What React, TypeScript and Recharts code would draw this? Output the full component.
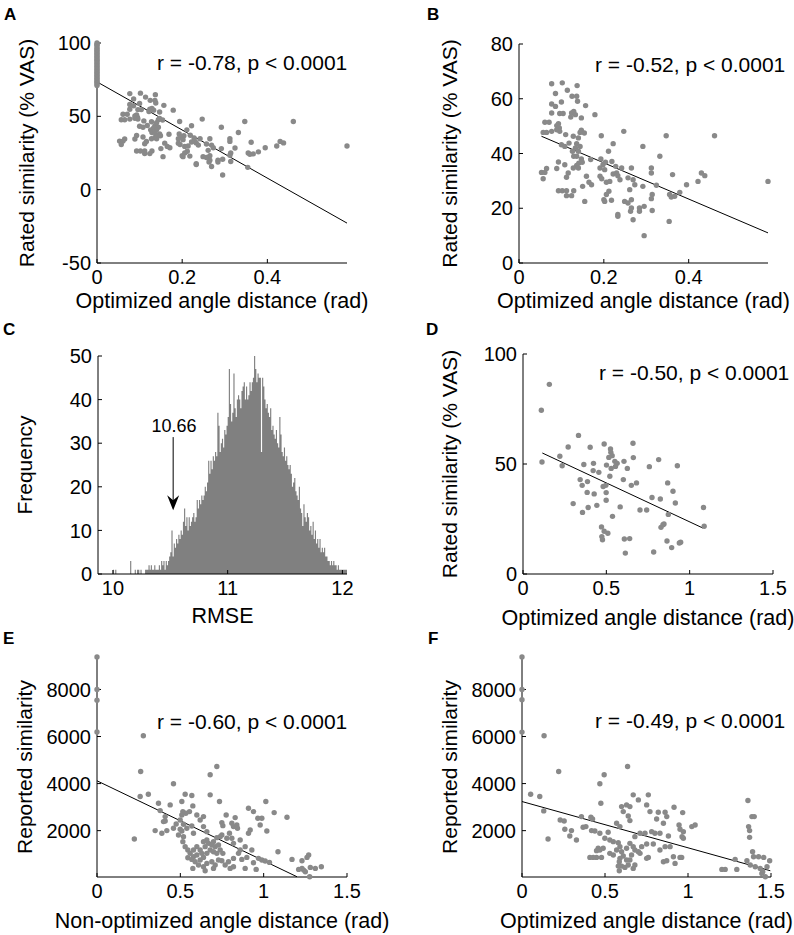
import React from 'react';
import {
  ScatterChart,
  Scatter,
  ComposedChart,
  Area,
  XAxis,
  YAxis,
  ReferenceLine,
  ReferenceDot,
  Label,
} from 'recharts';

const FONT = '"Liberation Sans", Arial, Helvetica, sans-serif';
const DOT = '#898989';

type Pt = [number, number];

// A + B: optimized angle distance (rad) vs rated similarity (% VAS)
const ptsAB: Pt[] = [
  [0.077, 65.5], [0.102, 65.8], [0.137, 64.8], [0.114, 63.1], [0.125, 60.9], [0.136, 60.9],
  [0.086, 61.9], [0.1, 58.8], [0.077, 58.1], [0.086, 57.2], [0.138, 59.1], [0.157, 57.5],
  [0.179, 54.2], [0.077, 54.8], [0.096, 54.6], [0.104, 54.6], [0.124, 54.8], [0.129, 55.4],
  [0.133, 54.2], [0.147, 53.0], [0.122, 53.3], [0.061, 51.4], [0.071, 51.4], [0.093, 50.9],
  [0.089, 50.2], [0.095, 49.3], [0.089, 48.7], [0.096, 48.1], [0.077, 48.1], [0.065, 47.7],
  [0.057, 47.7], [0.11, 46.9], [0.128, 46.3], [0.144, 47.7], [0.147, 48.5], [0.154, 47.5],
  [0.14, 45.7], [0.194, 46.5], [0.247, 48.1], [0.347, 46.5], [0.461, 46.5], [0.1, 43.2],
  [0.108, 42.6], [0.118, 43.8], [0.136, 43.6], [0.144, 42.6], [0.133, 42.0], [0.14, 40.8],
  [0.126, 40.8], [0.222, 43.6], [0.211, 40.8], [0.129, 39.0], [0.136, 39.0], [0.147, 38.0],
  [0.169, 37.8], [0.193, 38.0], [0.204, 36.8], [0.219, 37.1], [0.292, 42.6], [0.332, 39.0],
  [0.093, 36.9], [0.108, 35.9], [0.136, 35.6], [0.141, 36.5], [0.128, 34.7], [0.14, 34.7],
  [0.149, 36.8], [0.191, 34.7], [0.198, 35.9], [0.202, 34.1], [0.228, 35.3], [0.242, 34.7],
  [0.265, 34.7], [0.312, 34.7], [0.065, 34.5], [0.089, 34.5], [0.053, 33.1], [0.061, 33.1],
  [0.057, 30.8], [0.116, 32.9], [0.112, 31.3], [0.159, 31.7], [0.191, 31.7], [0.195, 30.8],
  [0.222, 32.5], [0.23, 32.9], [0.233, 31.9], [0.257, 31.1], [0.312, 32.9], [0.362, 32.3],
  [0.43, 32.9], [0.438, 31.9], [0.422, 29.8], [0.165, 29.5], [0.171, 28.6], [0.206, 29.5],
  [0.214, 29.8], [0.238, 30.4], [0.269, 30.4], [0.273, 28.6], [0.292, 28.0], [0.324, 28.4],
  [0.395, 28.6], [0.587, 29.8], [0.15, 28.0], [0.093, 26.4], [0.102, 26.4], [0.112, 26.4],
  [0.129, 26.4], [0.212, 26.2], [0.261, 26.8], [0.379, 25.8], [0.355, 25.0], [0.359, 24.1],
  [0.367, 24.4], [0.112, 24.6], [0.124, 24.6], [0.206, 25.0], [0.314, 25.0], [0.312, 23.5],
  [0.2, 23.1], [0.202, 22.5], [0.155, 22.5], [0.218, 22.9], [0.249, 22.5], [0.257, 21.9],
  [0.265, 23.1], [0.265, 20.1], [0.284, 20.1], [0.295, 20.7], [0.263, 18.9], [0.284, 18.9],
  [0.314, 19.2], [0.233, 17.7], [0.233, 17.1], [0.269, 15.8], [0.354, 15.2], [0.295, 10.0],
];
// A only: pairs with zero distance
const zeroA: number[] = [
  100, 99, 98.5, 97, 96, 95, 94, 93, 92, 91, 90, 89, 88, 87, 86, 85, 84, 83, 82, 81, 80,
  79, 78, 77, 76, 75, 74, 73, 72, 71,
];
const fitA: Pt[] = [[0, 73.5], [0.587, -22.8]];
const fitB: Pt[] = [[0.053, 46.3], [0.587, 11.0]];

// C: RMSE histogram, bins of 0.01 starting at 10.00
const histStart = 10.0;
const histBin = 0.01;
const histCounts: number[] = [
  1, 0, 1, 0, 0, 0, 0, 0, 0, 0,
  0, 0, 0, 0, 0, 3, 0, 0, 0, 1,
  0, 1, 1, 0, 1, 0, 0, 0, 1, 1,
  1, 2, 1, 2, 1, 1, 2, 1, 1, 1,
  2, 1, 3, 2, 3, 1, 3, 2, 3, 4,
  5, 10, 4, 7, 6, 8, 7, 9, 8, 10,
  9, 12, 15, 11, 13, 10, 13, 11, 12, 13,
  14, 12, 13, 17, 15, 17, 16, 18, 17, 18,
  20, 19, 21, 26, 23, 26, 24, 27, 26, 28,
  27, 37, 34, 28, 30, 31, 29, 33, 32, 34,
  36, 47, 39, 35, 37, 46, 38, 36, 40, 41,
  40, 38, 42, 43, 44, 40, 43, 40, 41, 44,
  42, 44, 45, 50, 47, 44, 46, 45, 45, 28,
  45, 43, 40, 38, 39, 37, 36, 38, 33, 34,
  32, 31, 33, 30, 29, 36, 32, 28, 27, 29,
  26, 27, 25, 24, 25, 23, 20, 21, 22, 19,
  18, 17, 20, 15, 14, 11, 16, 13, 12, 14,
  13, 10, 11, 9, 12, 8, 10, 7, 8, 6,
  8, 5, 6, 5, 6, 4, 4, 3, 3, 2,
  3, 2, 3, 2, 2, 1, 2, 1, 1, 1,
  1, 1, 1, 1,
];
const arrowX = 10.525;
const arrowTop = 31.4;
const arrowTip = 14.6;

// D
const ptsD: Pt[] = [
  [0.11, 74.4], [0.158, 86.2], [0.114, 50.9], [0.221, 53.5], [0.271, 57.7], [0.333, 63.0],
  [0.403, 57.6], [0.487, 59.1], [0.525, 56.8], [0.527, 55.3], [0.535, 53.8], [0.515, 53.0],
  [0.551, 51.2], [0.565, 50.3], [0.606, 51.2], [0.66, 59.4], [0.662, 52.9], [0.626, 48.0],
  [0.758, 48.8], [0.814, 52.0], [0.926, 49.2], [0.365, 49.8], [0.423, 50.3], [0.501, 49.5],
  [0.529, 48.0], [0.555, 48.9], [0.421, 47.0], [0.455, 46.2], [0.343, 42.9], [0.387, 42.0],
  [0.355, 40.3], [0.521, 44.4], [0.602, 42.9], [0.65, 40.3], [0.681, 41.4], [0.481, 39.8],
  [0.497, 40.3], [0.301, 32.0], [0.385, 37.1], [0.427, 36.4], [0.499, 37.0], [0.499, 33.5],
  [0.357, 28.0], [0.391, 30.2], [0.443, 31.2], [0.537, 26.2], [0.583, 30.5], [0.702, 29.1],
  [0.742, 29.1], [0.774, 34.8], [0.824, 34.1], [0.868, 41.4], [0.9, 37.6], [0.914, 32.3],
  [0.872, 27.1], [1.083, 30.2], [1.087, 21.7], [0.828, 21.2], [0.84, 22.4], [0.846, 22.7],
  [0.471, 21.4], [0.487, 19.4], [0.509, 18.5], [0.473, 17.0], [0.477, 15.6], [0.608, 15.9],
  [0.64, 16.1], [0.614, 9.5], [0.784, 10.0], [0.864, 15.0], [0.946, 14.4], [0.938, 14.1],
  [0.892, 12.0], [0.235, 49.2],
];
const fitD: Pt[] = [[0.116, 55.0], [1.079, 20.9]];

// E: non-optimized angle distance vs reported similarity
const ptsE: Pt[] = [
  [0, 9379], [0, 7998], [0, 7545], [0, 6195],
  [0.278, 6032], [0.262, 4515], [0.719, 4729], [0.679, 4373], [0.459, 3990], [0.259, 3450],
  [0.308, 3550], [0.369, 3165], [0.439, 3094], [0.379, 2853], [0.409, 2597], [0.409, 2412],
  [0.399, 2384], [0.349, 2001], [0.389, 1887], [0.419, 2001], [0.224, 1646], [0.529, 3550],
  [0.569, 3493], [0.679, 3521], [0.509, 3236], [0.575, 3052], [0.735, 3236], [0.515, 2810],
  [0.555, 2810], [0.509, 2668], [0.533, 2739], [0.599, 2668], [0.639, 2597], [0.619, 2455],
  [0.499, 2455], [0.475, 2284], [0.519, 2270], [0.459, 2100], [0.499, 2057], [0.509, 1986],
  [0.539, 2100], [0.569, 2199], [0.519, 1745], [0.489, 1816], [0.579, 1887], [0.639, 2171],
  [0.659, 1958], [0.749, 2341], [0.755, 2213], [0.809, 2313], [0.819, 2171], [0.839, 2242],
  [0.843, 2100], [0.775, 2668], [0.909, 2952], [0.939, 2810], [0.965, 2526], [0.989, 2526],
  [0.979, 2242], [1.013, 3236], [0.829, 2554], [0.719, 1703], [0.749, 1816], [0.795, 1887],
  [0.809, 1674], [0.859, 1603], [0.819, 1461], [0.909, 1887], [0.919, 2029], [1.019, 1986],
  [1.063, 2767], [1.14, 2569], [1.086, 1106], [0.929, 1178], [0.969, 823], [0.989, 750],
  [1.009, 708], [1.035, 651], [0.899, 864], [0.939, 637], [0.889, 395], [0.955, 352],
  [1.17, 779], [1.23, 722], [1.26, 864], [1.27, 963], [1.23, 395], [1.24, 324],
  [1.25, 253], [1.28, 438], [1.31, 395], [1.346, 466], [1.276, 40], [1.21, 352],
  [0.545, 1178], [0.559, 1035], [0.579, 893], [0.599, 963], [0.569, 779], [0.545, 850],
  [0.619, 750], [0.639, 864], [0.659, 1035], [0.679, 1178], [0.699, 1106], [0.719, 1035],
  [0.739, 1178], [0.755, 1035], [0.619, 1178], [0.629, 1035], [0.649, 1319], [0.669, 1461],
  [0.689, 1391], [0.709, 1319], [0.729, 1391], [0.699, 1532], [0.659, 1603], [0.639, 1532],
  [0.599, 1319], [0.579, 1178], [0.589, 680], [0.609, 537], [0.639, 466], [0.659, 608],
  [0.689, 680], [0.709, 537], [0.729, 750], [0.769, 537], [0.799, 395], [0.789, 680],
  [0.819, 821], [0.849, 1035], [0.869, 779], [0.649, 295], [0.575, 395], [0.819, 466],
  [0.749, 722], [0.699, 395], [0.859, 1178], [0.889, 1319], [0.739, 1745], [0.779, 1674],
  [0.515, 1532], [0.529, 1319],
];
const fitE: Pt[] = [[0, 4118], [1.2, 40]];

// F: optimized angle distance vs reported similarity
const ptsF: Pt[] = [
  [0, 9377], [0, 7998], [0, 7567], [0, 6189],
  [0.133, 6032], [0.221, 4515], [0.636, 4729], [0.495, 4373], [0.469, 3990], [0.052, 3550],
  [0.107, 3450], [0.131, 2839], [0.157, 1646], [0.23, 2455], [0.254, 2412], [0.258, 2057],
  [0.298, 2001], [0.288, 1773], [0.328, 1603], [0.358, 2597], [0.368, 2142], [0.385, 2171],
  [0.415, 2569], [0.425, 2498], [0.419, 2001], [0.439, 1986], [0.475, 3165], [0.519, 1929],
  [0.57, 2313], [0.59, 2171], [0.6, 3023], [0.61, 2810], [0.63, 3094], [0.65, 3023],
  [0.67, 3521], [0.65, 2426], [0.64, 2625], [0.701, 3307], [0.761, 3521], [0.751, 3094],
  [0.771, 2810], [0.821, 2782], [0.811, 2498], [0.862, 2782], [0.872, 2597], [0.916, 2995],
  [0.968, 2767], [0.852, 2313], [0.946, 2242], [0.952, 2057], [0.972, 1958], [1.023, 2171],
  [1.043, 2242], [0.882, 1773], [0.831, 1887], [0.801, 1887], [0.781, 1958], [0.741, 1887],
  [0.711, 1887], [0.68, 1745], [0.972, 1674], [0.964, 1745], [0.469, 1887], [0.499, 1674],
  [0.529, 1603], [0.55, 1532], [0.58, 1490], [0.59, 1319], [0.57, 1178], [0.6, 1106],
  [0.63, 1249], [0.65, 1461], [0.67, 1319], [0.68, 1178], [0.701, 1106], [0.721, 1319],
  [0.751, 1433], [0.791, 1433], [0.831, 1178], [0.862, 1319], [0.892, 1319], [0.912, 893],
  [0.852, 680], [0.872, 722], [0.922, 608], [0.952, 864], [0.962, 864], [0.761, 864],
  [0.751, 822], [0.711, 1035], [0.66, 963], [0.65, 750], [0.68, 537], [0.67, 395],
  [0.64, 537], [0.63, 750], [0.61, 921], [0.59, 822], [0.586, 680], [0.6, 494],
  [0.586, 295], [0.62, 438], [0.58, 494], [0.459, 1249], [0.469, 1178], [0.449, 1149],
  [0.449, 864], [0.479, 864], [0.529, 1035], [0.55, 963], [0.489, 1249], [0.409, 864],
  [0.429, 864], [1.361, 3279], [1.365, 2171], [1.371, 2001], [1.371, 1716], [1.385, 2597],
  [1.399, 2597], [1.389, 1106], [1.395, 893], [1.425, 893], [1.456, 864], [1.355, 722],
  [1.375, 537], [1.405, 466], [1.435, 395], [1.492, 722], [1.445, 182], [1.466, 40],
  [1.45, 253], [1.284, 779], [1.294, 352], [1.204, 352], [1.224, 352], [1.476, 466],
];
const fitF: Pt[] = [[0, 3237], [1.496, 296]];

const toXY = (pts: Pt[]) => pts.map(([x, y]) => ({ x, y }));

const tickStyle = { fill: '#000', fontSize: 20, fontFamily: FONT };
const xTitleStyle = { fill: '#000', fontSize: 21.5, fontFamily: FONT };
const yTitleStyle = { fill: '#000', fontSize: 21, fontFamily: FONT, textAnchor: 'middle' as const };

const dotShape = (p: any) => <circle cx={p.cx} cy={p.cy} r={2.7} fill={DOT} />;

type Rect = { left: number; top: number; right: number; bottom: number };

interface PanelProps {
  originX: number;
  plot: Rect;
  xDomain: [number, number];
  xTicks: number[];
  yDomain: [number, number];
  yTicks: number[];
  xLabel: string;
  yLabel: string;
  yLabelX: number;
  xLabelGap: number;
  series: { x: number; y: number }[][];
  fit: Pt[];
}

const PAD_TOP = 20;
const PAD_RIGHT = 70;
const AXIS_H = 60;

function ScatterPanel(props: PanelProps) {
  const { originX, plot } = props;
  const yW = plot.left - originX;
  const width = plot.right - originX + PAD_RIGHT;
  const height = plot.bottom - plot.top + PAD_TOP + AXIS_H;
  return (
    <div style={{ position: 'absolute', left: originX, top: plot.top - PAD_TOP }}>
      <ScatterChart
        width={width}
        height={height}
        margin={{ top: PAD_TOP, right: PAD_RIGHT, bottom: 0, left: 0 }}
      >
        <XAxis
          type="number"
          dataKey="x"
          domain={props.xDomain}
          ticks={props.xTicks}
          interval={0}
          height={AXIS_H}
          stroke="#000"
          tickSize={-4}
          tickMargin={11}
          tick={tickStyle}
        >
          <Label
            value={props.xLabel}
            position="insideBottom"
            offset={AXIS_H - props.xLabelGap}
            style={xTitleStyle}
          />
        </XAxis>
        <YAxis
          type="number"
          dataKey="y"
          domain={props.yDomain}
          ticks={props.yTicks}
          interval={0}
          width={yW}
          stroke="#000"
          tickSize={-4}
          tickMargin={10}
          tick={tickStyle}
        >
          <Label
            value={props.yLabel}
            angle={-90}
            position="insideLeft"
            offset={props.yLabelX}
            style={yTitleStyle}
          />
        </YAxis>
        {props.series.map((s, i) => (
          <Scatter key={i} data={s} shape={dotShape} isAnimationActive={false} />
        ))}
        <ReferenceLine segment={toXY(props.fit)} stroke="#000" strokeWidth={1} />
      </ScatterChart>
    </div>
  );
}

function HistPanel() {
  const plot: Rect = { left: 98, top: 356, right: 347, bottom: 574 };
  const originX = 0;
  const width = plot.right - originX + PAD_RIGHT;
  const height = plot.bottom - plot.top + PAD_TOP + AXIS_H;
  const bins = histCounts.map((c, i) => ({ x: histStart + i * histBin, c }));
  bins.push({ x: histStart + histCounts.length * histBin, c: histCounts[histCounts.length - 1] });
  const arrowHead = (p: any) => (
    <path
      d={`M${p.cx},${p.cy} L${p.cx - 6},${p.cy - 15} L${p.cx},${p.cy - 10} L${p.cx + 6},${p.cy - 15} Z`}
      fill="#000"
    />
  );
  return (
    <div style={{ position: 'absolute', left: originX, top: plot.top - PAD_TOP }}>
      <ComposedChart
        width={width}
        height={height}
        data={bins}
        margin={{ top: PAD_TOP, right: PAD_RIGHT, bottom: 0, left: 0 }}
      >
        <XAxis
          type="number"
          dataKey="x"
          domain={[9.87, 12.04]}
          ticks={[10, 11, 12]}
          interval={0}
          height={AXIS_H}
          stroke="#000"
          tickSize={-4}
          tickMargin={11}
          tick={tickStyle}
        >
          <Label value="RMSE" position="insideBottom" offset={AXIS_H - 49} style={xTitleStyle} />
        </XAxis>
        <YAxis
          type="number"
          domain={[0, 50]}
          ticks={[0, 10, 20, 30, 40, 50]}
          interval={0}
          width={plot.left - originX}
          stroke="#000"
          tickSize={-4}
          tickMargin={10}
          tick={tickStyle}
        >
          <Label
            value="Frequency"
            angle={-90}
            position="insideLeft"
            offset={25}
            style={yTitleStyle}
          />
        </YAxis>
        <Area
          type="stepAfter"
          dataKey="c"
          stroke="none"
          fill="#808080"
          fillOpacity={1}
          isAnimationActive={false}
        />
        <ReferenceLine
          segment={[{ x: arrowX, y: arrowTop }, { x: arrowX, y: arrowTip + 2 }]}
          stroke="#000"
          strokeWidth={1}
        />
        <ReferenceDot x={arrowX} y={arrowTip} r={0} shape={arrowHead} />
      </ComposedChart>
    </div>
  );
}

const rTexts = [
  { x: 157, y: 70, t: 'r = -0.78, p < 0.0001' },
  { x: 595, y: 72, t: 'r = -0.52, p < 0.0001' },
  { x: 599, y: 380, t: 'r = -0.50, p < 0.0001' },
  { x: 157, y: 729, t: 'r = -0.60, p < 0.0001' },
  { x: 595, y: 728, t: 'r = -0.49, p < 0.0001' },
];
const letters = [
  { x: 4, y: 20, t: 'A' },
  { x: 427, y: 20, t: 'B' },
  { x: 3, y: 335, t: 'C' },
  { x: 426, y: 335, t: 'D' },
  { x: 3, y: 644, t: 'E' },
  { x: 428, y: 644, t: 'F' },
];

export default function App() {
  const dataA = [...toXY(ptsAB), ...zeroA.map((y) => ({ x: 0, y }))];
  return (
    <div
      style={{
        position: 'absolute',
        left: 0,
        top: 0,
        width: 794,
        height: 935,
        background: '#fff',
        fontFamily: FONT,
        overflow: 'hidden',
      }}
    >
      <ScatterPanel
        originX={0}
        plot={{ left: 97, top: 43, right: 347, bottom: 263 }}
        xDomain={[0, 0.587]}
        xTicks={[0, 0.2, 0.4]}
        yDomain={[-50, 100]}
        yTicks={[-50, 0, 50, 100]}
        xLabel="Optimized angle distance (rad)"
        yLabel="Rated similarity (% VAS)"
        yLabelX={27}
        xLabelGap={45}
        series={[dataA]}
        fit={fitA}
      />
      <ScatterPanel
        originX={397}
        plot={{ left: 519, top: 44, right: 768, bottom: 263 }}
        xDomain={[0, 0.587]}
        xTicks={[0, 0.2, 0.4]}
        yDomain={[0, 80]}
        yTicks={[0, 20, 40, 60, 80]}
        xLabel="Optimized angle distance (rad)"
        yLabel="Rated similarity (% VAS)"
        yLabelX={53}
        xLabelGap={45}
        series={[toXY(ptsAB)]}
        fit={fitB}
      />
      <HistPanel />
      <ScatterPanel
        originX={397}
        plot={{ left: 523, top: 354, right: 773, bottom: 574 }}
        xDomain={[0, 1.5]}
        xTicks={[0, 0.5, 1, 1.5]}
        yDomain={[0, 100]}
        yTicks={[0, 50, 100]}
        xLabel="Optimized angle distance (rad)"
        yLabel="Rated similarity (% VAS)"
        yLabelX={53}
        xLabelGap={51}
        series={[toXY(ptsD)]}
        fit={fitD}
      />
      <ScatterPanel
        originX={0}
        plot={{ left: 97, top: 657, right: 347, bottom: 877 }}
        xDomain={[0, 1.5]}
        xTicks={[0, 0.5, 1, 1.5]}
        yDomain={[30, 9380]}
        yTicks={[2000, 4000, 6000, 8000]}
        xLabel="Non-optimized angle distance (rad)"
        yLabel="Reported similarity"
        yLabelX={25}
        xLabelGap={51}
        series={[toXY(ptsE)]}
        fit={fitE}
      />
      <ScatterPanel
        originX={397}
        plot={{ left: 522, top: 657, right: 771, bottom: 877 }}
        xDomain={[0, 1.5]}
        xTicks={[0, 0.5, 1, 1.5]}
        yDomain={[30, 9380]}
        yTicks={[2000, 4000, 6000, 8000]}
        xLabel="Optimized angle distance (rad)"
        yLabel="Reported similarity"
        yLabelX={53}
        xLabelGap={51}
        series={[toXY(ptsF)]}
        fit={fitF}
      />
      <svg
        width={794}
        height={935}
        style={{ position: 'absolute', left: 0, top: 0, pointerEvents: 'none' }}
      >
        {rTexts.map((r) => (
          <text key={r.t} x={r.x} y={r.y} fontSize={21} fontFamily={FONT} fill="#000">
            {r.t}
          </text>
        ))}
        <text x={174} y={432} fontSize={18} fontFamily={FONT} fill="#000" textAnchor="middle">
          10.66
        </text>
        {letters.map((l) => (
          <text key={l.t} x={l.x} y={l.y} fontSize={17} fontWeight="bold" fontFamily={FONT} fill="#000">
            {l.t}
          </text>
        ))}
      </svg>
    </div>
  );
}
